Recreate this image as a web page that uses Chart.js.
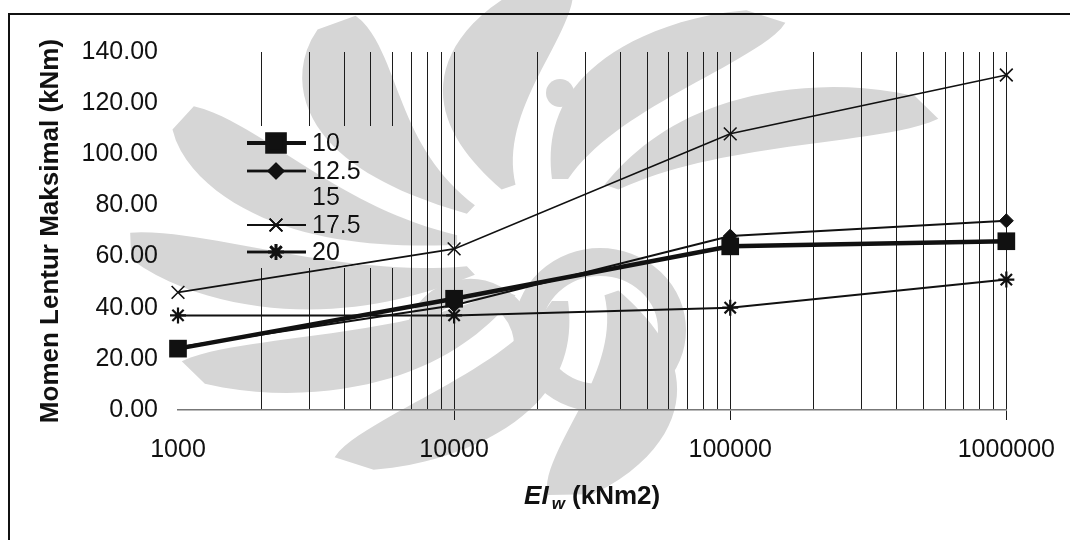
<!DOCTYPE html>
<html lang="id">
<head>
  <meta charset="UTF-8">
  <title>Momen Lentur Maksimal vs EIw</title>
  <script src="https://cdn.jsdelivr.net/npm/chart.js"></script>
  <style>
    body {
      margin: 0;
      padding: 0;
      background: #fff;
    }
    .chart-container {
      width: 1070px;
      height: 540px;
      position: relative;
    }
  </style>
</head>
<body>
  <div class="chart-container">
    <canvas id="myChart"></canvas>
  </div>

  <script>
    // EIw values (kNm2) on the log axis
    const eiValues = [1000, 10000, 100000, 1000000];
    const seriesNames = ['10', '12.5', '15', '17.5', '20'];
    // maximum bending moment (kNm) per series
    const moment10 = [24, 43.5, 64, 66];
    const moment125 = [24.5, 41, 68, 74];
    const moment15 = [24, 42, 66, 70];
    const moment175 = [46, 63, 108, 131];
    const moment20 = [37, 37, 40, 51];
    const yTickValues = [0, 20, 40, 60, 80, 100, 120, 140];
    const xTickLabels = [1000, 10000, 100000, 1000000];

    const toPoints = arr => eiValues.map((x, i) => ({ x: x, y: arr[i] }));

    // every log gridline from 1000 up to 1000000
    const logTicks = [];
    for (let p = 1000; p < 1000000; p *= 10) {
      for (let m = 1; m < 10; m++) logTicks.push(p * m);
    }
    logTicks.push(1000000);

    const FONT = '"Liberation Sans", Arial, sans-serif';
    const LEGEND_ROWS = [143, 171, 197, 225, 252];

    // white legend panel hides the gridlines but sits under the series
    const legendBox = {
      id: 'legendBox',
      beforeDatasetsDraw(chart) {
        const ctx = chart.ctx;
        ctx.save();
        ctx.fillStyle = '#fff';
        ctx.fillRect(240, 126, 165, 142);
        ctx.restore();
      },
      afterDatasetsDraw(chart) {
        const ctx = chart.ctx;
        ctx.save();
        chart.data.datasets.forEach((ds, i) => {
          const y = LEGEND_ROWS[i];
          if (ds.borderColor !== 'transparent') {
            ctx.strokeStyle = ds.borderColor;
            ctx.lineWidth = ds.legendLine;
            ctx.beginPath();
            ctx.moveTo(247, y);
            ctx.lineTo(306, y);
            ctx.stroke();
            Chart.helpers.drawPoint(ctx, {
              pointStyle: ds.pointStyle,
              radius: ds.pointRadius,
              rotation: 0,
              borderWidth: ds.pointBorderWidth
            }, 276, y);
            ctx.fillStyle = '#111';
            ctx.strokeStyle = '#111';
            ctx.lineWidth = ds.pointBorderWidth;
            if (ds.pointStyle === 'rect' || ds.pointStyle === 'rectRot') ctx.fill();
            ctx.stroke();
          }
          ctx.fillStyle = '#111';
          ctx.font = '25px ' + FONT;
          ctx.textBaseline = 'middle';
          ctx.textAlign = 'left';
          ctx.fillText(ds.label, 312, y + 1);
        });
        ctx.restore();
      }
    };

    const frameAndTitle = {
      id: 'frameAndTitle',
      afterDraw(chart) {
        const ctx = chart.ctx;
        const area = chart.chartArea;
        ctx.save();
        // outer frame (left and top)
        ctx.strokeStyle = '#111';
        ctx.lineWidth = 2;
        ctx.beginPath();
        ctx.moveTo(9, 540);
        ctx.lineTo(9, 14);
        ctx.lineTo(1070, 14);
        ctx.stroke();

        // x-axis title with subscript w
        ctx.fillStyle = '#111';
        ctx.textBaseline = 'middle';
        ctx.textAlign = 'left';
        const big = 'italic bold 26px ' + FONT;
        const sub = 'italic bold 17px ' + FONT;
        const rest = 'bold 26px ' + FONT;
        ctx.font = big; const w1 = ctx.measureText('EI').width + 3;
        ctx.font = sub; const w2 = ctx.measureText('w').width;
        ctx.font = rest; const w3 = ctx.measureText(' (kNm2)').width;
        let x = (area.left + area.right) / 2 - (w1 + w2 + w3) / 2;
        const y = 497;
        ctx.font = big; ctx.fillText('EI', x, y); x += w1;
        ctx.font = sub; ctx.fillText('w', x, y + 7); x += w2;
        ctx.font = rest; ctx.fillText(' (kNm2)', x, y);
        ctx.restore();
      }
    };

    // faint grey emblem printed over the page
    function petal(ctx, cx, cy, rx, ry, a0, width, r0, r1, swirl) {
      const steps = 30;
      const edge = side => {
        for (let j = 0; j <= steps; j++) {
          const i = side > 0 ? j : steps - j;
          const t = i / steps;
          const r = r0 + (r1 - r0) * t;
          const w = width * Math.pow(Math.sin(Math.PI * (0.08 + 0.88 * t)), 0.6);
          const a = a0 + swirl * t + side * w / 2;
          ctx.lineTo(cx + r * rx * Math.cos(a), cy + r * ry * Math.sin(a));
        }
      };
      ctx.beginPath();
      edge(-1);
      edge(1);
      ctx.closePath();
      ctx.fill();
    }

    const emblem = {
      id: 'emblem',
      afterDraw(chart) {
        const ctx = chart.ctx;
        const cx = 560, cy = 240;
        ctx.save();
        ctx.globalCompositeOperation = 'darken';
        ctx.fillStyle = '#d6d6d6';
        ctx.strokeStyle = '#d6d6d6';
        const n = 12;
        for (let k = 0; k < n; k++) {
          const a0 = k * Math.PI * 2 / n;
          const mid = ((a0 + 0.25) % (Math.PI * 2));
          if (mid > 5.9 || mid < 1.1) continue;
          petal(ctx, cx, cy, 430, 255, a0, 0.36, 0.24, 1.0, 0.5);
        }
        ctx.lineWidth = 28;
        ctx.beginPath();
        ctx.ellipse(600, 330, 72, 68, 0, 0, Math.PI * 2);
        ctx.stroke();
        ctx.lineWidth = 22;
        ctx.beginPath();
        ctx.ellipse(470, 345, 55, 55, 0, Math.PI * 0.9, Math.PI * 2.3);
        ctx.stroke();
        ctx.beginPath();
        ctx.arc(560, 93, 14, 0, Math.PI * 2);
        ctx.fill();
        ctx.restore();
      }
    };

    const ctx = document.getElementById('myChart').getContext('2d');
    const myChart = new Chart(ctx, {
      type: 'line',
      data: {
        datasets: [{
          label: seriesNames[0],
          data: toPoints(moment10),
          borderColor: '#111',
          borderWidth: 4.5,
          legendLine: 4,
          pointStyle: 'rect',
          pointRadius: 12.5,
          pointBorderWidth: 0,
          pointBackgroundColor: '#111'
        }, {
          label: seriesNames[1],
          data: toPoints(moment125),
          borderColor: '#111',
          borderWidth: 2,
          legendLine: 3,
          pointStyle: 'rectRot',
          pointRadius: 7,
          pointBorderWidth: 1,
          pointBackgroundColor: '#111'
        }, {
          label: seriesNames[2],
          data: toPoints(moment15),
          borderColor: 'transparent',
          borderWidth: 0,
          legendLine: 0,
          pointStyle: 'circle',
          pointRadius: 0,
          pointBorderWidth: 0
        }, {
          label: seriesNames[3],
          data: toPoints(moment175),
          borderColor: '#111',
          borderWidth: 1.6,
          legendLine: 2,
          pointStyle: 'crossRot',
          pointRadius: 9,
          pointBorderWidth: 1.6,
          pointBackgroundColor: '#111'
        }, {
          label: seriesNames[4],
          data: toPoints(moment20),
          borderColor: '#111',
          borderWidth: 2,
          legendLine: 3,
          pointStyle: 'star',
          pointRadius: 8,
          pointBorderWidth: 2.2,
          pointBackgroundColor: '#111'
        }]
      },
      options: {
        responsive: true,
        maintainAspectRatio: false,
        animation: false,
        layout: { padding: { top: 52, right: 52, left: 0, bottom: 0 } },
        elements: {
          line: { tension: 0 }
        },
        datasets: { line: { clip: false, pointBorderColor: '#111' } },
        plugins: {
          legend: { display: false },
          tooltip: { enabled: false }
        },
        scales: {
          x: {
            type: 'logarithmic',
            min: 1000,
            max: 1000000,
            afterBuildTicks: scale => {
              scale.ticks = logTicks.map(v => ({ value: v }));
            },
            afterFit: scale => { scale.height = 130; },
            ticks: {
              autoSkip: false,
              maxRotation: 0,
              padding: 15,
              color: '#111',
              font: { family: FONT, size: 25 },
              callback: value => xTickLabels.includes(value) ? String(value) : ''
            },
            grid: {
              color: c => c.tick && c.tick.value === 1000 ? 'transparent' : '#1c1c1c',
              tickColor: c => c.tick && c.tick.value > 1000 && xTickLabels.includes(c.tick.value) ? '#1c1c1c' : 'transparent',
              lineWidth: 1,
              tickLength: 10
            },
            border: { display: true, color: '#777', width: 1.5 }
          },
          y: {
            min: 0,
            max: 140,
            afterBuildTicks: scale => {
              scale.ticks = yTickValues.map(v => ({ value: v }));
            },
            afterFit: scale => { scale.width = 178; },
            ticks: {
              padding: 20,
              color: '#111',
              font: { family: FONT, size: 25 },
              callback: value => value.toFixed(2)
            },
            grid: { display: false, drawTicks: false },
            border: { display: false },
            title: {
              display: true,
              text: 'Momen Lentur Maksimal (kNm)',
              color: '#111',
              font: { family: FONT, size: 26, weight: 'bold' },
              padding: { top: 35 }
            }
          }
        }
      },
      plugins: [legendBox, frameAndTitle, emblem]
    });
  </script>
</body>
</html>
